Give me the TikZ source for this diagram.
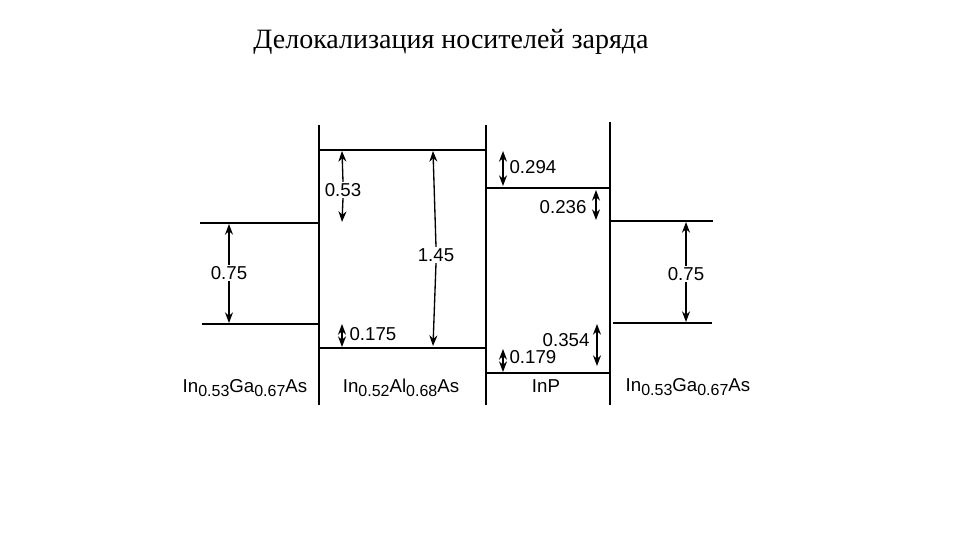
\documentclass[tikz,border=0pt]{standalone}
\usepackage{fontspec}
\setmainfont{Liberation Serif}
\newfontfamily\lbl{Liberation Sans}
\usetikzlibrary{arrows.meta}
\newcommand{\sbs}[1]{\raisebox{-0.35ex}{\fontsize{12}{13}\selectfont #1}}
\begin{document}
\begin{tikzpicture}[x=0.75pt,y=-0.75pt,
  band/.style={line width=1.6pt},
  wall/.style={line width=1.4pt},
  dim/.style={line width=1pt,{Stealth[length=8pt,width=6pt]}-{Stealth[length=8pt,width=6pt]}},
  half/.style={line width=1pt,-{Stealth[length=8pt,width=6pt]}},
  val/.style={font=\lbl\fontsize{14}{16}\selectfont,inner sep=1pt},
  mat/.style={font=\lbl\fontsize{14}{16}\selectfont,inner sep=1pt}]
\useasboundingbox (0,0) rectangle (960,540);
\node[font=\fontsize{21}{25}\selectfont] (title) at (451,42) {Делокализация носителей заряда};
% walls
\draw[wall] (319,125) -- (319,405);
\draw[wall] (486,125) -- (486,405);
\draw[wall] (610,122) -- (610,405);
% bands
\draw[band] (200,223) -- (319,223);
\draw[band] (202,324) -- (319,324);
\draw[band] (319,150) -- (486,150);
\draw[band] (320,348) -- (486,348);
\draw[band] (486,188) -- (610,188);
\draw[band] (487,373) -- (610,373);
\draw[band] (610,221) -- (713,221);
\draw[band] (613,323) -- (712,323);
% left 0.75
\node[val] (l75) at (229,273) {0.75};
\draw[half] (l75.north) -- (229,224);
\draw[half] (l75.south) -- (229,323);
% 0.53
\node[val] (v53) at (343,190) {0.53};
\draw[half] (v53.north) -- (342,151);
\draw[half] (v53.south) -- (342,222);
% 1.45
\node[val] (v145) at (436,255) {1.45};
\draw[half] (v145.north) -- (433,151);
\draw[half] (v145.south) -- (433,346);
% 0.175
\coordinate (a175t) at (342,324); \coordinate (a175b) at (342,347);
\draw[dim] (a175t) -- (a175b);
\node[val,anchor=west] (v175) at (348,334) {0.175};
% 0.294
\coordinate (a294t) at (503,151); \coordinate (a294b) at (503,186);
\draw[dim] (a294t) -- (a294b);
\node[val,anchor=west] (v294) at (508,167) {0.294};
% 0.236
\coordinate (a236t) at (596,190); \coordinate (a236b) at (596,220);
\draw[dim] (a236t) -- (a236b);
\node[val,anchor=east] (v236) at (588,207) {0.236};
% 0.354
\coordinate (a354t) at (597,324); \coordinate (a354b) at (597,366);
\draw[dim] (a354t) -- (a354b);
\node[val,anchor=east] (v354) at (591,340) {0.354};
% 0.179
\coordinate (a179t) at (503,349); \coordinate (a179b) at (503,372);
\draw[dim] (a179t) -- (a179b);
\node[val,anchor=west] (v179) at (508,357) {0.179};
% right 0.75
\node[val] (r75) at (686,274) {0.75};
\draw[half] (r75.north) -- (686,222);
\draw[half] (r75.south) -- (686,322);
% materials
\node[mat] (m1) at (245,388) {In\sbs{0.53}Ga\sbs{0.67}As};
\node[mat] (m2) at (401,388) {In\sbs{0.52}Al\sbs{0.68}As};
\node[mat] (m3) at (546,386) {InP};
\node[mat] (m4) at (688,387) {In\sbs{0.53}Ga\sbs{0.67}As};
\end{tikzpicture}
\end{document}
